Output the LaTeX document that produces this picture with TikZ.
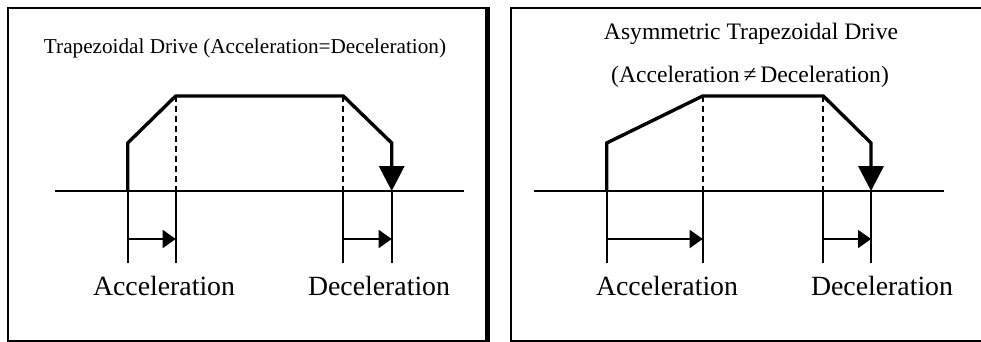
\documentclass[tikz,border=0pt]{standalone}
\usepackage{fontspec}
\setmainfont{Liberation Serif}
\usetikzlibrary{arrows.meta}
\begin{document}
\begin{tikzpicture}[x=1pt,y=-1pt,
  prof/.style={line width=3.4pt, line join=miter},
  thinln/.style={line width=1.9pt},
  dsh/.style={line width=1.8pt, dash pattern=on 6pt off 4pt},
  bigtip/.style={-{Triangle[width=25pt,length=25pt]}},
  smalltip/.style={-{Triangle[width=18pt,length=13pt]}},
  lab/.style={font=\fontsize{27.8}{30}\selectfont, anchor=base, inner sep=0pt},
  ttl/.style={anchor=base, inner sep=0pt},
  frame/.style={line width=1.6pt},
  ]
\useasboundingbox (0,0) rectangle (981,342);

% ---------- left panel ----------
\draw[frame] (8,8) rectangle (486,341);
\fill (485,7.2) rectangle (490,341.8);

\node[ttl, font=\fontsize{21.2}{24}\selectfont] (t1) at (245,53.5) {Trapezoidal Drive (Acceleration=Deceleration)};

\coordinate (a0) at (127.7,191);
\coordinate (a1) at (127.7,143);
\coordinate (a2) at (175.7,96);
\coordinate (a3) at (343.3,96);
\coordinate (a4) at (391.7,143);
\coordinate (a5) at (391.7,191);
\coordinate (a2b) at (175.7,191);
\coordinate (a3b) at (343.3,191);

\draw[thinln] (55,191) -- (464,191);
\draw[dsh] (a2) -- (a2b);
\draw[dsh] (a3) -- (a3b);
\draw[prof, bigtip] (a0) -- (a1) -- (a2) -- (a3) -- (a4) -- (a5);

\coordinate (a0d) at (127.7,263);
\coordinate (a2d) at (175.7,263);
\coordinate (a3d) at (343.3,263);
\coordinate (a5d) at (391.7,263);
\draw[thinln] (a0) -- (a0d);
\draw[thinln] (a2b) -- (a2d);
\draw[thinln] (a3b) -- (a3d);
\draw[thinln] (a5) -- (a5d);

\coordinate (aa1) at (127.7,239);
\coordinate (aa2) at (175.7,239);
\coordinate (ad1) at (343.3,239);
\coordinate (ad2) at (391.7,239);
\draw[thinln, smalltip] (aa1) -- (aa2);
\draw[thinln, smalltip] (ad1) -- (ad2);

\node[lab] (la) at (164,295) {Acceleration};
\node[lab] (ld) at (379,295) {Deceleration};

% ---------- right panel ----------
\draw[frame] (511,8) rectangle (982,341);

\node[ttl, font=\fontsize{23.6}{26}\selectfont] (t2) at (751,40) {Asymmetric Trapezoidal Drive};
\node[ttl, font=\fontsize{23.6}{26}\selectfont] (t3) at (750,82.7) {(Acceleration\,≠\,Deceleration)};

\coordinate (b0) at (606.7,191);
\coordinate (b1) at (606.7,143);
\coordinate (b2) at (702.7,96);
\coordinate (b3) at (823.3,96);
\coordinate (b4) at (871,143);
\coordinate (b5) at (871,191);
\coordinate (b2b) at (702.7,191);
\coordinate (b3b) at (823.3,191);

\draw[thinln] (534,191) -- (944,191);
\draw[dsh] (b2) -- (b2b);
\draw[dsh] (b3) -- (b3b);
\draw[prof, bigtip] (b0) -- (b1) -- (b2) -- (b3) -- (b4) -- (b5);

\coordinate (b0d) at (606.7,263);
\coordinate (b2d) at (702.7,263);
\coordinate (b3d) at (823.3,263);
\coordinate (b5d) at (871,263);
\draw[thinln] (b0) -- (b0d);
\draw[thinln] (b2b) -- (b2d);
\draw[thinln] (b3b) -- (b3d);
\draw[thinln] (b5) -- (b5d);

\coordinate (ba1) at (606.7,239);
\coordinate (ba2) at (702.7,239);
\coordinate (bd1) at (823.3,239);
\coordinate (bd2) at (871,239);
\draw[thinln, smalltip] (ba1) -- (ba2);
\draw[thinln, smalltip] (bd1) -- (bd2);

\node[lab] (ra) at (667,295) {Acceleration};
\node[lab] (rd) at (882,295) {Deceleration};
\end{tikzpicture}
\end{document}
